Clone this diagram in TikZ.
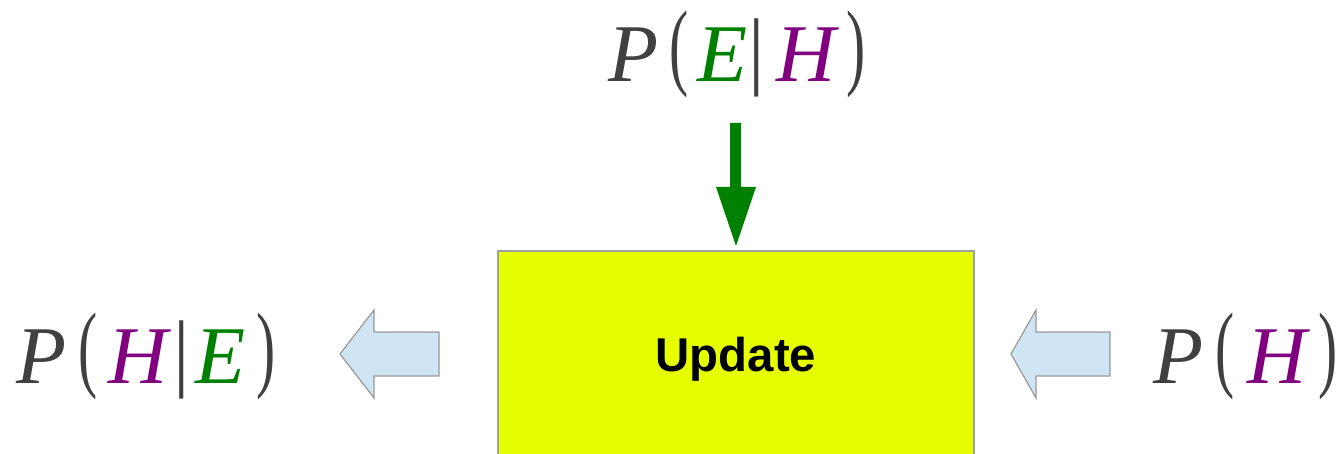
\documentclass[tikz,border=0pt]{standalone}
\usepackage{fontspec}
\setmainfont{Liberation Serif}
\setsansfont{Liberation Sans}
\definecolor{ink}{HTML}{404040}
\definecolor{evid}{HTML}{008000}
\definecolor{hyp}{HTML}{800080}
\definecolor{boxfill}{HTML}{E5FF00}
\definecolor{boxline}{HTML}{A0A0A0}
\definecolor{blockfill}{HTML}{CFE5F3}
\definecolor{blockline}{HTML}{999999}
\begin{document}
\begin{tikzpicture}[x=0.5pt,y=-0.5pt,
  glyph/.style={inner sep=0pt,anchor=base,font=\fontsize{41}{41}\selectfont\itshape},
  paren/.style={inner sep=0pt,anchor=base,text=ink,font=\fontsize{41}{41}\selectfont\upshape},
  blockarrow/.style={fill=blockfill,draw=blockline,line width=0.6pt,line join=miter},
  updatebox/.style={fill=boxfill,draw=boxline,line width=0.8pt}]
\useasboundingbox (0,0) rectangle (1338,454);

% central box
\path[updatebox] (498,251) rectangle (974,460);
\node[inner sep=0pt,anchor=base,font=\fontsize{23.7}{24}\selectfont\sffamily\bfseries] (upd) at (736,371) {Update};
\coordinate (tip) at (736,246);

% top formula P(E|H)
\node[glyph,text=ink] (tP) at (634,82) {P};
\node[paren] (tL) at (679,78) {\scalebox{0.7}[1.17]{(}};
\node[glyph,text=evid] (tE) at (723,82) {E};
\node[paren] (tB) at (757,79) {\scalebox{1}[1.05]{|}};
\node[glyph,text=hyp] (tH) at (806,82) {H};
\node[paren] (tR) at (856,78) {\scalebox{0.7}[1.17]{)}};

% left formula P(H|E)
\node[glyph,text=ink] (lP) at (42,383) {P};
\node[paren] (lL) at (88,379) {\scalebox{0.7}[1.17]{(}};
\node[glyph,text=hyp] (lH) at (138,383) {H};
\node[paren] (lB) at (182,380) {\scalebox{1}[1.05]{|}};
\node[glyph,text=evid] (lE) at (221,383) {E};
\node[paren] (lR) at (266,379) {\scalebox{0.7}[1.17]{)}};

% right formula P(H)
\node[glyph,text=ink] (rP) at (1179,383) {P};
\node[paren] (rL) at (1225,379) {\scalebox{0.7}[1.17]{(}};
\node[glyph,text=hyp] (rH) at (1277,383) {H};
\node[paren] (rR) at (1328,379) {\scalebox{0.7}[1.17]{)}};

% green arrow from top formula to box
\fill[evid] (730,123) -- (741,123) -- (741,187) -- (756,187) -- (tip) -- (716,187) -- (730,187) -- cycle;

% left block arrow (box -> P(H|E))
\path[blockarrow] (439,332) -- (374,332) -- (374,310) -- (340,354) -- (374,398) -- (374,376) -- (439,376) -- cycle;
% right block arrow (P(H) -> box)
\path[blockarrow] (1110,332) -- (1036,332) -- (1036,310) -- (1011,354) -- (1036,398) -- (1036,376) -- (1110,376) -- cycle;
\end{tikzpicture}
\end{document}
